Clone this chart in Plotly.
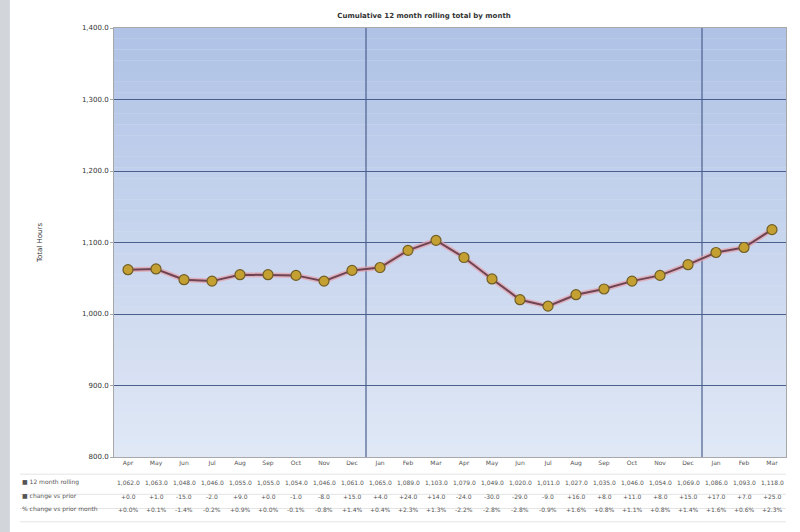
import plotly.graph_objects as go

months = ["Apr", "May", "Jun", "Jul", "Aug", "Sep", "Oct", "Nov", "Dec",
          "Jan", "Feb", "Mar", "Apr", "May", "Jun", "Jul", "Aug", "Sep",
          "Oct", "Nov", "Dec", "Jan", "Feb", "Mar"]
values = [1062, 1063, 1048, 1046, 1055, 1055, 1054, 1046, 1061, 1065, 1089, 1103,
          1079, 1049, 1020, 1011, 1027, 1035, 1046, 1054, 1069, 1086, 1093, 1118]
y_ticks = [800, 900, 1000, 1100, 1200, 1300, 1400]
year_breaks = [8.5, 20.5]
row_labels = ["■ 12 month rolling", "■ change vs prior", "% change vs prior month"]

x = list(range(len(months)))
changes = [0] + [values[i] - values[i - 1] for i in range(1, len(values))]
pct = [0.0] + [100.0 * (values[i] - values[i - 1]) / values[i - 1] for i in range(1, len(values))]

fig = go.Figure()

# halo line
fig.add_trace(go.Scatter(x=x, y=values, mode="lines",
                         line=dict(color="rgba(230,160,170,0.7)", width=5),
                         hoverinfo="skip", showlegend=False))
fig.add_trace(go.Scatter(x=x, y=values, mode="lines+markers",
                         line=dict(color="#6e4454", width=2),
                         marker=dict(size=10, color="#c4a032",
                                     line=dict(color="#6f5e26", width=1.2)),
                         showlegend=False))

shapes = []
# gradient background
n = 40
top = (176, 195, 230)
bot = (224, 232, 246)
for i in range(n):
    t = i / (n - 1)
    c = tuple(int(top[k] + (bot[k] - top[k]) * t) for k in range(3))
    shapes.append(dict(type="rect", xref="x domain", yref="y domain",
                       x0=0, x1=1, y0=1 - (i + 1) / n, y1=1 - i / n,
                       fillcolor="rgb(%d,%d,%d)" % c, line=dict(width=0),
                       layer="below"))
for b in year_breaks:
    shapes.append(dict(type="line", xref="x", yref="y domain", x0=b, x1=b,
                       y0=0, y1=1, line=dict(color="#4a5f8e", width=1.2),
                       layer="below"))
# window frame edge
shapes.append(dict(type="rect", xref="paper", yref="paper", x0=-0.17, x1=-0.155,
                   y0=-0.18, y1=1.07, fillcolor="#d2d5da", line=dict(width=0)))
# data table lines
for yy in [-0.04, -0.087, -0.12, -0.151]:
    shapes.append(dict(type="line", xref="paper", yref="paper", x0=-0.14, x1=1,
                       y0=yy, y1=yy, line=dict(color="#e4e4e4", width=1)))

row_y = [-0.072, -0.104, -0.135]
annotations = []
for i in x:
    annotations.append(dict(x=i, y=row_y[0], xref="x", yref="paper",
                            text="{:,.1f}".format(values[i]), showarrow=False,
                            font=dict(size=6, color="#555")))
    annotations.append(dict(x=i, y=row_y[1], xref="x", yref="paper",
                            text="{:+,.1f}".format(changes[i]), showarrow=False,
                            font=dict(size=6, color="#555")))
    annotations.append(dict(x=i, y=row_y[2], xref="x", yref="paper",
                            text="{:+.1f}%".format(pct[i]), showarrow=False,
                            font=dict(size=6, color="#555")))
for j, lab in enumerate(row_labels):
    annotations.append(dict(x=-0.14, y=row_y[j], xref="paper",
                            yref="paper", xanchor="left", text=lab,
                            showarrow=False, font=dict(size=6, color="#555")))

fig.update_layout(
    width=800, height=532,
    margin=dict(l=114, r=14, t=28, b=75),
    paper_bgcolor="white", plot_bgcolor="#dde6f4",
    font=dict(family="DejaVu Sans", color="#333"),
    title=dict(text="<b>Cumulative 12 month rolling total by month</b>", x=0.53, y=0.975,
               xanchor="center", font=dict(size=7, color="#333")),
    shapes=shapes, annotations=annotations,
    xaxis=dict(tickvals=x, ticktext=months, range=[-0.5, 23.5],
               showgrid=False, zeroline=False, tickfont=dict(size=6, color="#555"),
               showline=True, linecolor="#a8a8a8", mirror=True, ticks=""),
    yaxis=dict(range=[800, 1400], tickvals=y_ticks, tickformat=",.1f",
               gridcolor="#4a5f8e", gridwidth=1.2, zeroline=False,
               tickfont=dict(size=7, color="#333"), showline=True,
               linecolor="#a8a8a8", mirror=True, ticks="outside", ticklen=3,
               tickcolor="#a8a8a8",
               title=dict(text="Total Hours", font=dict(size=7), standoff=38)),
)

fig.write_html("out.html", config={"displayModeBar": False},
               post_script="document.body.style.margin='0';")
